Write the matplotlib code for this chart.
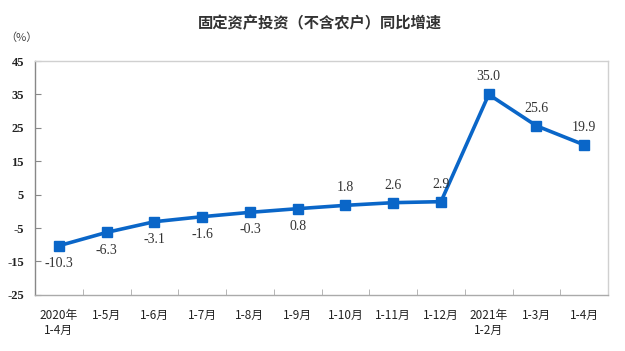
import numpy as np
import matplotlib
matplotlib.use('Agg')
import matplotlib.pyplot as plt
import matplotlib.ticker as ticker

plt.rcParams['font.family'] = ['Noto Sans CJK SC', 'DejaVu Sans']

# data
categories = ['2020年\n1-4月', '1-5月', '1-6月', '1-7月', '1-8月', '1-9月',
              '1-10月', '1-11月', '1-12月', '2021年\n1-2月', '1-3月', '1-4月']
values = [-10.3, -6.3, -3.1, -1.6, -0.3, 0.8, 1.8, 2.6, 2.9, 35.0, 25.6, 19.9]
label_below = [True, True, True, True, True, True,
               False, False, False, False, False, False]
yticks = [-25, -15, -5, 5, 15, 25, 35, 45]

blue = '#0a66c8'
txt = '#333333'

fig = plt.figure(figsize=(6.25, 3.51), dpi=100)
ax = fig.add_axes([0.056, 0.160, 0.917, 0.666])

x = np.arange(len(values))
ax.plot(x, values, color=blue, linewidth=2.6, marker='s', markersize=7,
        markerfacecolor=blue, markeredgecolor=blue, zorder=3)

for xi, v, below in zip(x, values, label_below):
    dy = -8 if below else 8
    ax.annotate('%.1f' % v, (xi, v), xytext=(0, dy), textcoords='offset points',
                ha='center', va='top' if below else 'bottom',
                fontsize=10, color=txt, family=['Liberation Serif'])

ax.set_xlim(-0.5, len(values) - 0.5)
ax.set_ylim(-25, 45)
ax.set_yticks(yticks)
ax.set_yticklabels([str(t) for t in yticks], family=['Liberation Serif'],
                   fontweight='bold', fontsize=9, color='#222222')

# category labels centred, ticks between them
ax.set_xticks(x)
ax.set_xticklabels(categories, fontsize=8.5, color='#222222', linespacing=1.25)
ax.xaxis.set_minor_locator(ticker.FixedLocator(np.arange(0.5, len(values) - 0.5, 1)))
ax.tick_params(axis='x', which='major', length=0, pad=10)
ax.tick_params(axis='x', which='minor', length=4, direction='in', color='#aaaaaa')
ax.tick_params(axis='y', which='major', length=4, direction='in', color='#888888', pad=8)

for side in ['top', 'right']:
    ax.spines[side].set_color('#d0d0d0')
    ax.spines[side].set_linewidth(1.0)
ax.spines['left'].set_color('#888888')
ax.spines['bottom'].set_color('#aaaaaa')
for side in ['left', 'bottom']:
    ax.spines[side].set_linewidth(1.0)

fig.text(0.512, 0.935, '固定资产投资（不含农户）同比增速', ha='center', va='center',
         fontsize=11, fontweight='bold', color='#333333')
fig.text(0.035, 0.893, '（%）', ha='center', va='center', fontsize=8, color='#444444')

plt.savefig('out.png', dpi=100)
